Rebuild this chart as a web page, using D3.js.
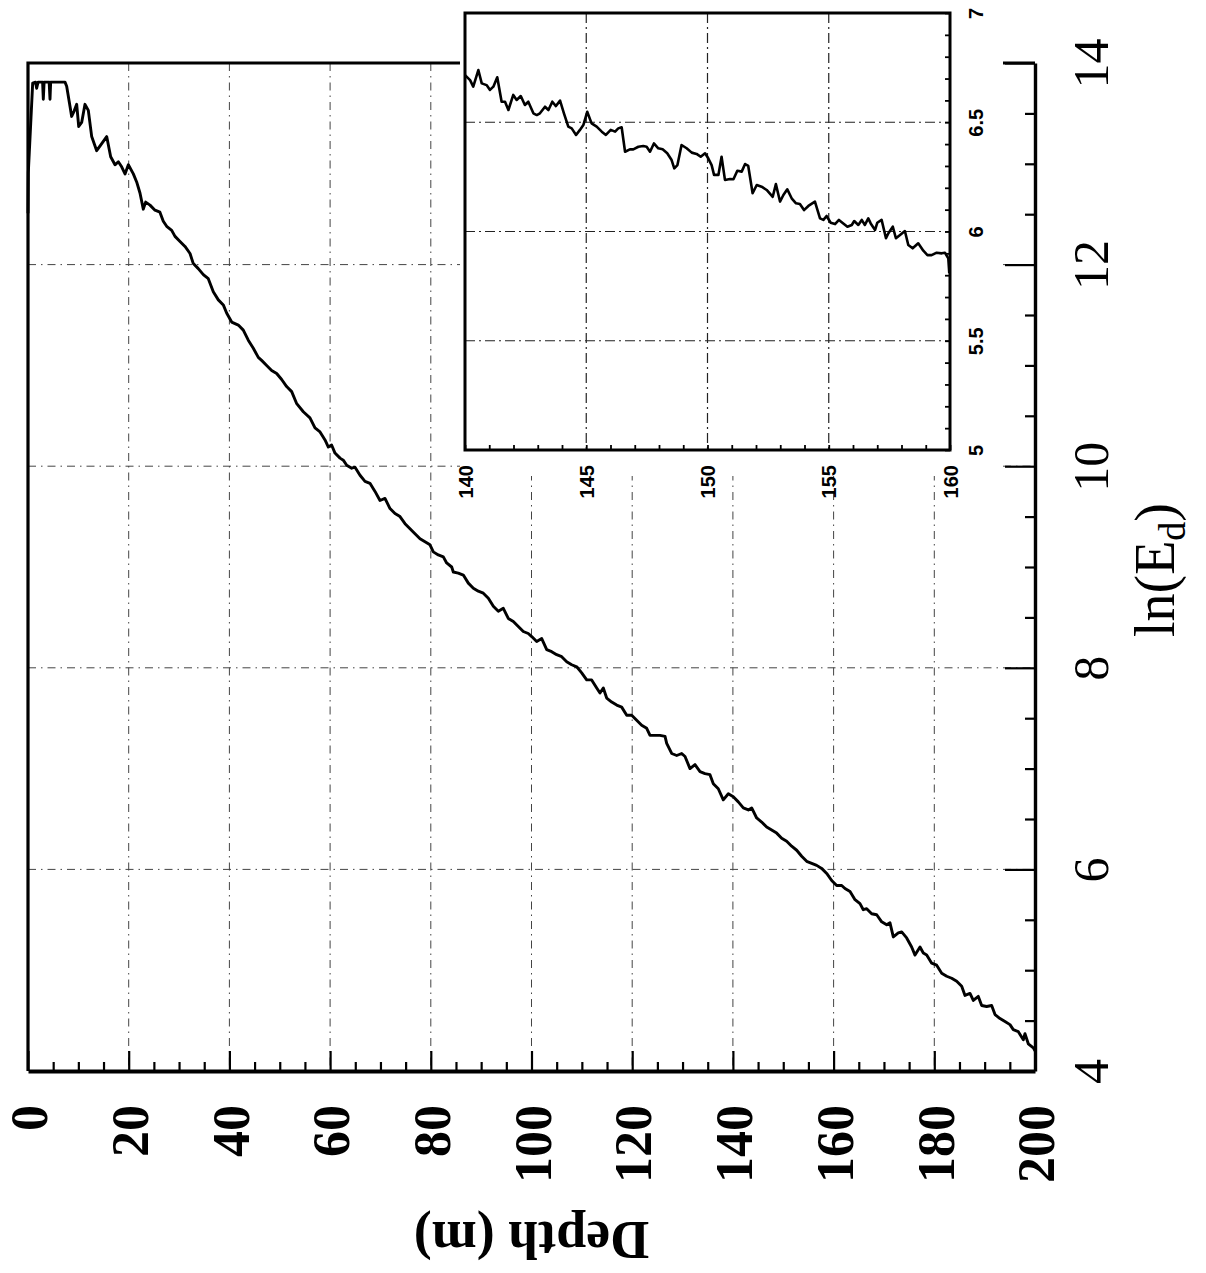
<!DOCTYPE html>
<html><head><meta charset="utf-8">
<script src="https://cdn.jsdelivr.net/npm/d3@7"></script>
<style>body{margin:0;background:#fff}svg{display:block}</style>
</head><body>
<svg id="c" width="1206" height="1273"></svg>
<script>
// ---- tick labels ----
const depthTicks = [0, 20, 40, 60, 80, 100, 120, 140, 160, 180, 200];
const lnTicks = [4, 6, 8, 10, 12, 14];
const insetDepthTicks = [140, 145, 150, 155, 160];
const insetLnTicks = [5, 5.5, 6, 6.5, 7];
const insetLnLabels = ["5", "5.5", "6", "6.5", "7"];

// ---- main profile: depth (m) ----
const mainDepth = [0,0.06,0.93,1.5,1.72,2.0,2.9,3.04,3.2,4.2,4.37,4.5,7.35,7.68,8.34,8.67,9.14,9.67,10.07,10.66,
11.32,11.98,12.65,13.64,14.64,15.63,16.42,17.28,17.94,18.6,19.27,19.93,20.92,21.58,22.24,22.9,23.37,24.23,25.22,26.2,
26.87,27.54,28.54,29.2,30.19,31.18,32.18,32.83,33.82,34.82,35.81,36.8,37.8,38.79,39.45,40.45,41.77,42.76,43.75,44.75,
45.74,46.4,47.4,48.39,49.39,50.38,51.37,52.37,53.37,54.68,56.0,57.0,58.0,58.99,59.65,60.3,60.97,61.97,62.62,63.3,
64.29,64.95,65.94,66.93,67.92,68.92,69.91,70.9,71.9,72.89,73.88,74.88,75.87,76.86,77.86,78.85,79.84,80.5,81.49,82.49,
83.15,84.15,84.47,85.46,86.46,87.45,88.45,89.44,90.43,91.43,92.42,93.41,94.4,95.39,96.39,97.38,98.37,99.36,100.04,101.03,
102.03,103.02,104.01,105.0,106.0,106.99,107.98,108.98,109.97,110.96,111.95,112.95,113.6,114.26,114.93,115.93,116.92,117.91,118.91,119.9,
120.89,121.88,122.88,123.54,124.53,125.52,126.52,126.85,127.84,128.84,129.83,130.49,131.48,132.47,133.47,134.46,135.45,136.11,137.1,138.09,
139.09,140.08,141.07,142.07,143.06,143.73,144.72,145.71,146.71,147.7,148.69,149.69,150.68,151.67,152.67,153.66,154.65,155.65,156.64,157.63,
158.63,159.62,160.61,161.61,162.26,163.26,164.25,165.24,165.9,166.57,167.56,168.56,169.55,170.54,171.2,171.86,172.85,173.52,174.51,175.5,
176.17,177.16,177.82,178.49,179.48,180.47,181.47,182.46,183.45,184.45,185.44,186.1,187.09,187.75,188.74,189.41,190.4,191.39,192.06,193.05,
194.04,195.03,195.69,196.69,197.68,198.01,198.67,199.67,200];
// ---- main profile: ln(Ed) ----
const mainLn = [12.51,12.91,13.80,13.81,13.75,13.81,13.81,13.64,13.81,13.81,13.64,13.81,13.81,13.77,13.57,13.47,13.52,13.59,13.37,13.41,
13.59,13.53,13.27,13.13,13.20,13.27,13.07,12.99,13.02,12.97,12.90,12.99,12.90,12.82,12.71,12.55,12.62,12.59,12.54,12.52,
12.43,12.38,12.34,12.28,12.23,12.18,12.11,12.01,11.96,11.90,11.86,11.73,11.65,11.60,11.52,11.43,11.40,11.35,11.25,11.17,
11.08,11.05,11.00,10.95,10.92,10.86,10.79,10.74,10.62,10.54,10.48,10.38,10.34,10.26,10.19,10.21,10.13,10.08,10.06,10.01,
9.98,9.99,9.91,9.85,9.83,9.75,9.66,9.68,9.58,9.53,9.50,9.43,9.38,9.33,9.28,9.25,9.22,9.15,9.12,9.10,
9.04,9.00,8.95,8.94,8.92,8.84,8.79,8.76,8.74,8.69,8.61,8.56,8.59,8.49,8.46,8.41,8.36,8.34,8.31,8.26,
8.29,8.18,8.16,8.13,8.11,8.06,8.03,8.01,7.95,7.88,7.88,7.80,7.75,7.80,7.70,7.66,7.63,7.61,7.53,7.53,
7.48,7.43,7.40,7.33,7.33,7.33,7.32,7.25,7.15,7.13,7.15,7.12,7.00,7.04,6.97,6.95,6.94,6.85,6.80,6.69,
6.75,6.72,6.67,6.61,6.59,6.61,6.51,6.47,6.42,6.39,6.36,6.31,6.28,6.23,6.19,6.13,6.08,6.06,6.04,6.01,
5.96,5.89,5.84,5.84,5.81,5.78,5.70,5.66,5.60,5.61,5.56,5.55,5.48,5.45,5.47,5.33,5.37,5.38,5.32,5.23,
5.15,5.23,5.17,5.15,5.07,5.05,4.97,4.94,4.92,4.89,4.84,4.75,4.77,4.70,4.74,4.65,4.64,4.65,4.56,4.52,
4.49,4.46,4.41,4.39,4.31,4.37,4.27,4.23,4.20];

// ---- inset (140-160 m) ----
const insetDepth = [140.0,140.21,140.34,140.55,140.69,140.89,141.03,141.17,141.33,141.51,141.65,141.79,141.99,142.13,142.30,142.47,142.61,142.82,142.96,143.09,
143.30,143.44,143.60,143.75,143.92,144.08,144.26,144.40,144.58,144.74,144.88,145.04,145.22,145.43,145.64,145.81,146.01,146.19,146.32,146.46,
146.60,146.80,146.94,147.15,147.35,147.49,147.63,147.79,147.97,148.15,148.34,148.52,148.63,148.76,148.93,149.14,149.35,149.55,149.72,149.90,
150.03,150.17,150.27,150.45,150.58,150.72,150.93,151.07,151.23,151.41,151.55,151.68,151.86,152.03,152.23,152.44,152.69,152.82,152.99,153.13,
153.29,153.47,153.65,153.81,153.98,154.16,154.43,154.64,154.78,154.91,155.08,155.26,155.42,155.60,155.77,155.95,156.05,156.22,156.36,156.49,
156.63,156.73,156.91,157.00,157.18,157.36,157.46,157.64,157.77,157.94,158.14,158.28,158.46,158.69,158.90,159.07,159.24,159.45,159.66,159.79,
159.93,159.97];
const insetLn = [6.716,6.693,6.663,6.739,6.678,6.670,6.648,6.663,6.706,6.594,6.594,6.556,6.625,6.602,6.620,6.579,6.594,6.541,6.533,6.541,
6.571,6.556,6.594,6.574,6.599,6.541,6.480,6.472,6.442,6.465,6.487,6.548,6.495,6.480,6.457,6.442,6.465,6.457,6.472,6.477,
6.365,6.376,6.376,6.388,6.391,6.388,6.365,6.403,6.381,6.376,6.358,6.327,6.289,6.304,6.396,6.381,6.361,6.355,6.342,6.358,
6.335,6.304,6.259,6.259,6.342,6.236,6.240,6.239,6.278,6.274,6.309,6.300,6.175,6.213,6.205,6.190,6.159,6.217,6.137,6.167,
6.193,6.152,6.129,6.126,6.098,6.117,6.137,6.060,6.053,6.071,6.040,6.034,6.053,6.037,6.022,6.030,6.048,6.030,6.053,6.030,
6.060,6.037,6.007,6.040,6.053,5.969,5.992,6.022,5.969,5.984,6.002,5.938,5.923,5.946,5.912,5.892,5.892,5.903,5.900,5.903,
5.877,5.809];

const svg = d3.select("#c");
svg.append("rect").attr("width",1206).attr("height",1273).attr("fill","#fff");

const serif = "'Liberation Serif','Times New Roman',serif";
const sans = "'Liberation Sans',Arial,sans-serif";

// main scales
const x = d3.scaleLinear().domain([0,200]).range([28,1035]);
const y = d3.scaleLinear().domain([4,14]).range([1071,63]);

// grid
const grid = svg.append("g").attr("stroke","#444").attr("stroke-width",1)
  .attr("stroke-dasharray","8,5,1.5,5").attr("fill","none");
depthTicks.filter(d=>d>0&&d<200).forEach(d=>{
  grid.append("line").attr("x1",x(d)).attr("x2",x(d)).attr("y1",y(14)).attr("y2",y(4));
});
lnTicks.filter(d=>d>4&&d<14).forEach(d=>{
  grid.append("line").attr("x1",x(0)).attr("x2",x(200)).attr("y1",y(d)).attr("y2",y(d));
});

// frame top & left
svg.append("path").attr("d",`M${x(0)},${y(4)}V${y(14)}H${x(200)}`)
  .attr("fill","none").attr("stroke","#000").attr("stroke-width",3.2);

// curve
const line = d3.line().x(d=>x(d[0])).y(d=>y(d[1]));
svg.append("path").datum(mainDepth.map((d,i)=>[d,mainLn[i]]))
  .attr("d",line).attr("fill","none").attr("stroke","#000")
  .attr("stroke-width",2.9).attr("stroke-linejoin","round");

// bottom axis
const minorDepth = d3.range(0,201,5).filter(d=>d%20!==0);
const gb = svg.append("g").attr("transform",`translate(0,${y(4)})`);
gb.append("g").call(d3.axisBottom(x).tickValues(minorDepth).tickSize(-9).tickSizeOuter(0).tickFormat(""))
  .call(g=>g.select(".domain").remove()).selectAll("line").attr("stroke-width",2.2);
const gbm = gb.append("g").call(d3.axisBottom(x).tickValues(depthTicks).tickSize(-20).tickSizeOuter(0).tickFormat(d=>d));
gbm.select(".domain").attr("stroke-width",4);
gbm.selectAll("line").attr("stroke-width",2.2);
gbm.selectAll("text").attr("x",null).attr("y",null).attr("dy","0.36em")
  .attr("transform","translate(0,34) rotate(-90)").attr("text-anchor","end")
  .attr("font-family",serif).attr("font-weight","bold").attr("font-size",52).attr("fill","#000");

// right axis
const minorLn = d3.range(4,14.01,0.5).filter(d=>d%2!==0);
const gr = svg.append("g").attr("transform",`translate(${x(200)},0)`);
gr.append("g").call(d3.axisRight(y).tickValues(minorLn).tickSize(-10).tickSizeOuter(0).tickFormat(""))
  .call(g=>g.select(".domain").remove()).selectAll("line").attr("stroke-width",2.2);
const grm = gr.append("g").call(d3.axisRight(y).tickValues(lnTicks).tickSize(-30).tickSizeOuter(0).tickFormat(d=>d));
grm.select(".domain").attr("stroke-width",3.4);
grm.selectAll("line").attr("stroke-width",2.2);
grm.selectAll("text").attr("x",null).attr("y",null).attr("dy",null)
  .attr("transform","translate(73,0) rotate(-90)").attr("text-anchor","middle")
  .attr("font-family",serif).attr("font-size",50).attr("fill","#000");

// axis titles
svg.append("text").attr("transform",`translate(${(x(0)+x(200))/2},1222) rotate(180)`)
  .attr("text-anchor","middle").attr("font-family",serif).attr("font-weight","bold")
  .attr("font-size",54).attr("fill","#000").text("Depth (m)");
const lt = svg.append("text").attr("transform","translate(1174,570) rotate(-90)")
  .attr("text-anchor","middle").attr("font-family",serif).attr("font-size",56).attr("fill","#000");
lt.append("tspan").text("ln(E");
lt.append("tspan").attr("font-size",38).attr("dy","0.3em").text("d");
lt.append("tspan").attr("dy","-0.2em").text(")");

// ---- inset ----
svg.append("rect").attr("x",460).attr("y",0).attr("width",543).attr("height",476).attr("fill","#fff");
const xi = d3.scaleLinear().domain([140,160]).range([465,950]);
const yi = d3.scaleLinear().domain([5,7]).range([450,13]);
const gi = svg.append("g").attr("stroke","#222").attr("stroke-width",1.2)
  .attr("stroke-dasharray","10,4,2,4").attr("fill","none");
insetDepthTicks.filter(d=>d>140&&d<160).forEach(d=>{
  gi.append("line").attr("x1",xi(d)).attr("x2",xi(d)).attr("y1",yi(7)).attr("y2",yi(5));
});
insetLnTicks.filter(d=>d>5&&d<7).forEach(d=>{
  gi.append("line").attr("x1",xi(140)).attr("x2",xi(160)).attr("y1",yi(d)).attr("y2",yi(d));
});
svg.append("path").datum(insetDepth.map((d,i)=>[d,insetLn[i]]))
  .attr("d",d3.line().x(d=>xi(d[0])).y(d=>yi(d[1])))
  .attr("fill","none").attr("stroke","#000").attr("stroke-width",2.6).attr("stroke-linejoin","round");
svg.append("rect").attr("x",xi(140)).attr("y",yi(7)).attr("width",xi(160)-xi(140)).attr("height",yi(5)-yi(7))
  .attr("fill","none").attr("stroke","#000").attr("stroke-width",3);

const gib = svg.append("g").attr("transform",`translate(0,${yi(5)})`)
  .call(d3.axisBottom(xi).tickValues(d3.range(140,160.01,1)).tickSize(-5).tickSizeOuter(0)
    .tickFormat(d=>insetDepthTicks.includes(d)?d:""));
gib.select(".domain").remove();
gib.selectAll("line").attr("stroke-width",1.8);
gib.selectAll("text").attr("x",null).attr("y",null).attr("dy","0.36em")
  .attr("transform","translate(0,15) rotate(-90)").attr("text-anchor","end")
  .attr("font-family",sans).attr("font-weight","bold").attr("font-size",20).attr("fill","#000");

const gir = svg.append("g").attr("transform",`translate(${xi(160)},0)`)
  .call(d3.axisRight(yi).tickValues(d3.range(5,7.001,0.1)).tickSize(-5).tickSizeOuter(0)
    .tickFormat(d=>{const k=insetLnTicks.findIndex(t=>Math.abs(t-d)<1e-6);return k>=0?insetLnLabels[k]:"";}));
gir.select(".domain").remove();
gir.selectAll("line").attr("stroke-width",1.8);
gir.selectAll("text").attr("x",null).attr("y",null).attr("dy",null)
  .attr("transform","translate(33,0) rotate(-90)").attr("text-anchor","middle")
  .attr("font-family",sans).attr("font-weight","bold").attr("font-size",20).attr("fill","#000");
</script>
</body></html>
